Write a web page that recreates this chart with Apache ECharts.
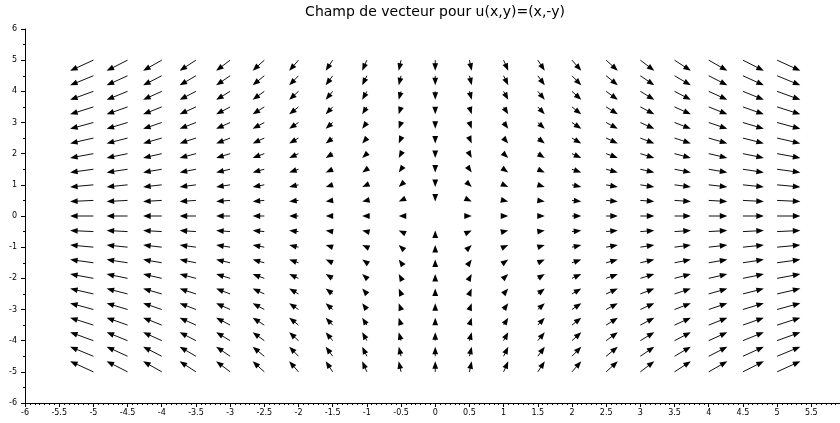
<!DOCTYPE html>
<html>
<head>
<meta charset="utf-8">
<script src="https://cdn.jsdelivr.net/npm/echarts@6/dist/echarts.min.js"></script>
<style>
html,body{margin:0;padding:0;background:#fff;}
#chart{width:840px;height:423px;}
</style>
</head>
<body>
<div id="chart"></div>
<script>
// Grid points of the field (data units)
const xCols = [-5, -4.5, -4, -3.5, -3, -2.5, -2, -1.5, -1, -0.5, 0, 0.5, 1, 1.5, 2, 2.5, 3, 3.5, 4, 4.5, 5];
const yRows = [5, 4.5, 4, 3.5, 3, 2.5, 2, 1.5, 1, 0.5, 0, -0.5, -1, -1.5, -2, -2.5, -3, -3.5, -4, -4.5, -5];
// Horizontal component, one value per column
const uByCol = [-5, -4.5, -4, -3.5, -3, -2.5, -2, -1.5, -1, -0.5, 0, 0.5, 1, 1.5, 2, 2.5, 3, 3.5, 4, 4.5, 5];
// Vertical component, one value per row
const vByRow = [-5, -4.5, -4, -3.5, -3, -2.5, -2, -1.5, -1, -0.5, 0, 0.5, 1, 1.5, 2, 2.5, 3, 3.5, 4, 4.5, 5];
const titleText = 'Champ de vecteur pour u(x,y)=(x,-y)';
// Visible x-range (the axis runs on to 6, just past the right edge)
const xMin = -6, xMax = 5.92;
const yMin = -6, yMax = 6;

const ARROW_SCALE = 0.068;

const fieldData = [];
for (let i = 0; i < yRows.length; i++) {
  for (let j = 0; j < xCols.length; j++) {
    fieldData.push([xCols[j], yRows[i], uByCol[j], vByRow[i]]);
  }
}

function renderArrow(params, api) {
  const x = api.value(0), y = api.value(1), u = api.value(2), v = api.value(3);
  const p0 = api.coord([x, y]);
  const p1 = api.coord([x + ARROW_SCALE * u, y + ARROW_SCALE * v]);
  const dx = p1[0] - p0[0], dy = p1[1] - p0[1];
  const len = Math.hypot(dx, dy);
  if (len < 1e-9) return { type: 'group', children: [] };
  const ux = dx / len, uy = dy / len;
  const HL = 7.5, HW = 2.9;
  const base = [p1[0] - ux * HL, p1[1] - uy * HL];
  const left = [base[0] - uy * HW, base[1] + ux * HW];
  const right = [base[0] + uy * HW, base[1] - ux * HW];
  const children = [];
  if (len > HL) {
    children.push({
      type: 'line',
      shape: { x1: p0[0], y1: p0[1], x2: base[0] + ux, y2: base[1] + uy },
      style: { stroke: '#111', lineWidth: 1 }
    });
  }
  children.push({
    type: 'polygon',
    shape: { points: [p1, left, right] },
    style: { fill: '#000', stroke: null }
  });
  return { type: 'group', children: children };
}

const chart = echarts.init(document.getElementById('chart'), null, { renderer: 'canvas' });
chart.setOption({
  animation: false,
  backgroundColor: '#fff',
  title: {
    text: titleText,
    left: 430,
    top: 0,
    textAlign: 'center',
    textStyle: { fontFamily: 'DejaVu Sans', fontSize: 14, fontWeight: 'normal', color: '#000' }
  },
  grid: { left: 25, right: 0, top: 29, bottom: 20, containLabel: false },
  xAxis: {
    type: 'value',
    min: xMin, max: xMax, interval: 0.5,
    axisLine: { show: true, onZero: false, lineStyle: { color: '#000', width: 1 } },
    axisTick: { show: true, inside: false, length: 4, lineStyle: { color: '#000' } },
    minorTick: { show: true, splitNumber: 7, length: 2, lineStyle: { color: '#000' } },
    splitLine: { show: false },
    axisLabel: { fontFamily: 'DejaVu Sans', fontSize: 8, color: '#000', margin: 6, showMaxLabel: false }
  },
  yAxis: {
    type: 'value',
    min: yMin, max: yMax, interval: 1,
    axisLine: { show: true, onZero: false, lineStyle: { color: '#000', width: 1 } },
    axisTick: { show: true, inside: false, length: 4, lineStyle: { color: '#000' } },
    minorTick: { show: true, splitNumber: 2, length: 2, lineStyle: { color: '#000' } },
    splitLine: { show: false },
    axisLabel: { fontFamily: 'DejaVu Sans', fontSize: 8, color: '#000', margin: 8 }
  },
  series: [{
    type: 'custom',
    renderItem: renderArrow,
    data: fieldData,
    clip: false,
    encode: { x: 0, y: 1 }
  }]
});
</script>
</body>
</html>
